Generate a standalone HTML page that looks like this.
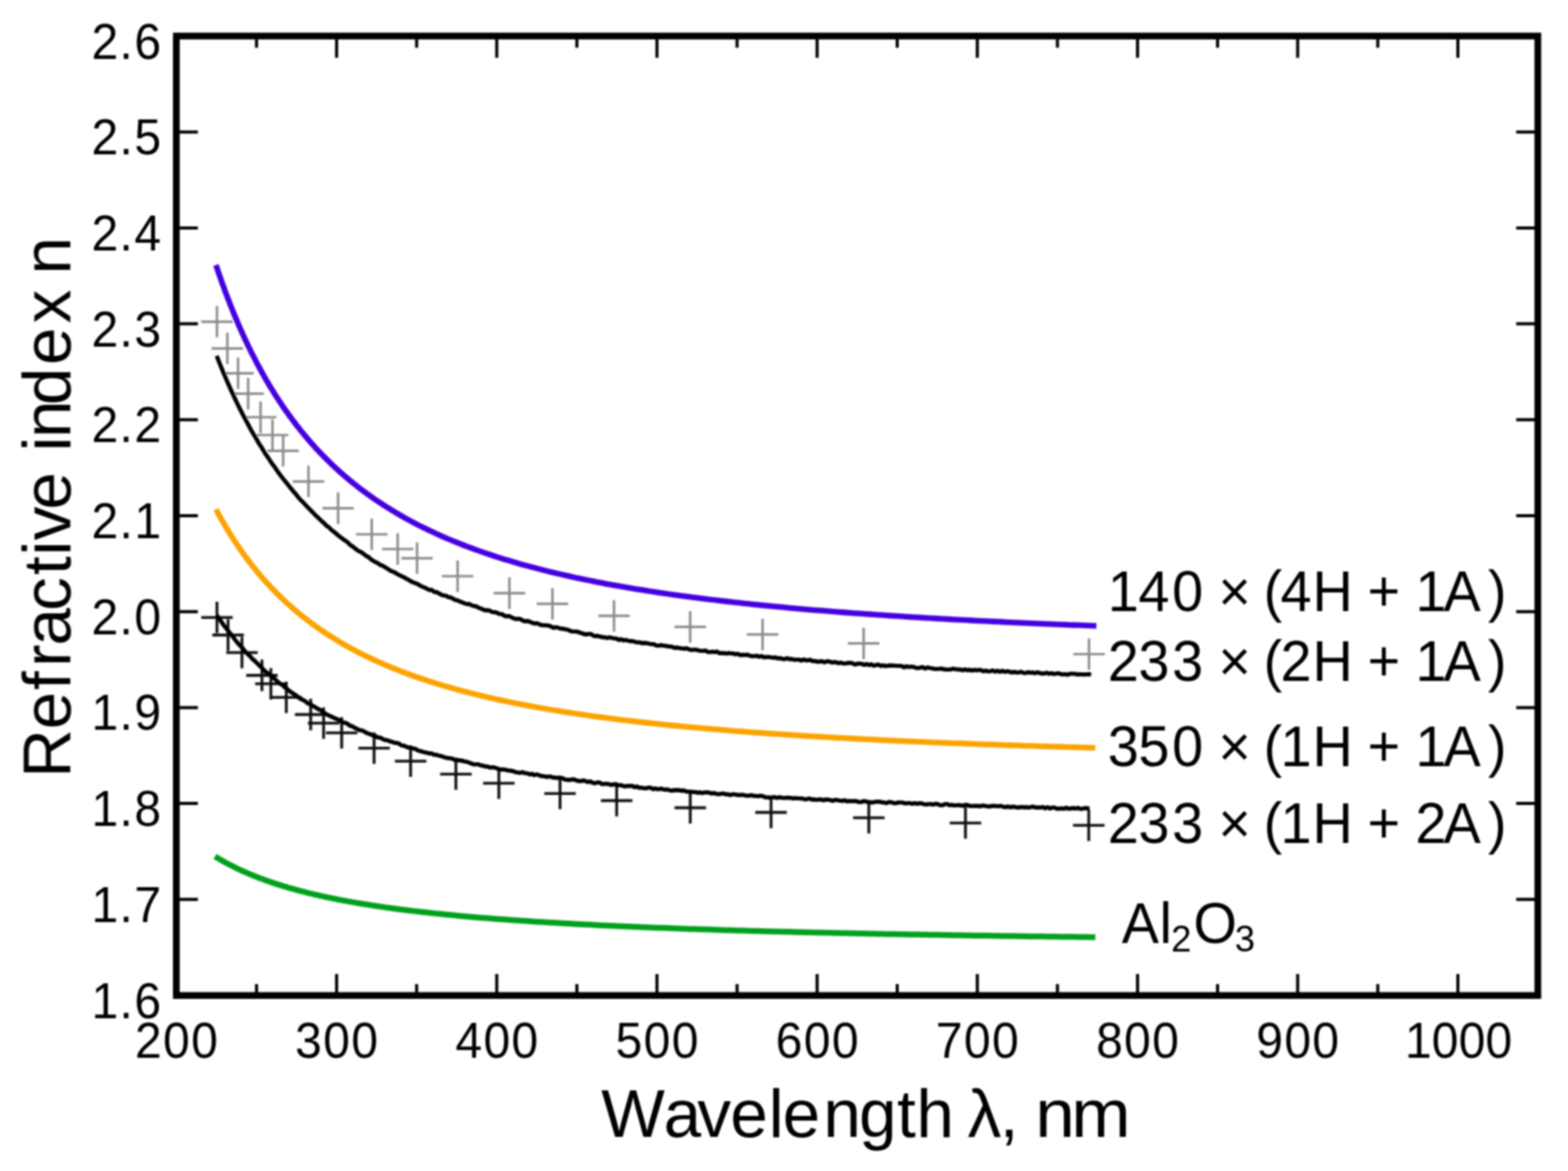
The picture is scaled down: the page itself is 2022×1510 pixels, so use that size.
<!DOCTYPE html>
<html lang="en"><head><meta charset="utf-8"><title>Refractive index vs wavelength</title>
<style>html,body{margin:0;padding:0;background:#fff;}body{width:2022px;height:1510px;overflow:hidden;}svg{display:block;}text{font-family:"Liberation Sans",Arial,sans-serif;fill:#000;white-space:pre;}</style>
</head><body>
<svg width="2022" height="1510" viewBox="0 0 2022 1510" role="img" aria-label="Refractive index n versus wavelength">
<defs><filter id="soft" x="-2%" y="-2%" width="104%" height="104%"><feGaussianBlur stdDeviation="0.9"/></filter></defs>
<rect x="0" y="0" width="2022" height="1510" fill="#ffffff"/>
<g filter="url(#soft)">
<g id="markers">
<path d="M259.5,414.8h40.6M279.8,394.5v40.6M272.9,449.3h40.6M293.2,429.0v40.6M286.7,481.3h40.6M307.0,461.0v40.6M299.7,507.6h40.6M320.0,487.3v40.6M315.7,538.0h40.6M336.0,517.7v40.6M331.1,561.0h40.6M351.4,540.7v40.6M344.8,581.3h40.6M365.1,561.0v40.6M377.5,620.8h40.6M397.8,600.5v40.6M415.7,655.4h40.6M436.0,635.1v40.6M459.1,689.0h40.6M479.4,668.7v40.6M492.5,708.0h40.6M512.8,687.7v40.6M517.5,719.8h40.6M537.8,699.5v40.6M569.8,743.0h40.6M590.1,722.7v40.6M636.6,764.9h40.6M656.9,744.6v40.6M692.1,778.7h40.6M712.4,758.4v40.6M771.5,794.2h40.6M791.8,773.9v40.6M869.7,808.4h40.6M890.0,788.1v40.6M963.1,818.2h40.6M983.4,797.9v40.6M1093.4,829.7h40.6M1113.7,809.4v40.6M1384.0,843.5h40.6M1404.3,823.2v40.6" fill="none" stroke="#8c8c8c" stroke-width="3.2"/>
<path d="M259.5,796.2h40.6M279.8,775.9v40.6M273.8,818.9h40.6M294.1,798.6v40.6M291.7,841.5h40.6M312.0,821.2v40.6M317.5,870.9h40.6M337.8,850.6v40.6M329.0,881.7h40.6M349.3,861.4v40.6M348.9,899.2h40.6M369.2,878.9v40.6M380.3,921.4h40.6M400.6,901.1v40.6M397.0,932.5h40.6M417.3,912.2v40.6M420.3,945.0h40.6M440.6,924.7v40.6M462.1,964.8h40.6M482.4,944.5v40.6M509.2,981.5h40.6M529.5,961.2v40.6M567.6,998.2h40.6M587.9,977.9v40.6M623.0,1010.0h40.6M643.3,989.7v40.6M701.9,1023.3h40.6M722.2,1003.0v40.6M774.9,1032.4h40.6M795.2,1012.1v40.6M869.8,1041.6h40.6M890.1,1021.3v40.6M974.0,1047.6h40.6M994.3,1027.3v40.6M1100.1,1054.5h40.6M1120.4,1034.2v40.6M1224.7,1061.3h40.6M1245.0,1041.0v40.6M1383.7,1064.3h40.6M1404.0,1044.0v40.6" fill="none" stroke="#111" stroke-width="3.6"/>
</g>
<g id="curves">
<path d="M277.3,1104.3 L279.2,1105.5 L281.0,1106.6 L282.9,1107.7 L284.8,1108.8 L286.7,1109.9 L288.5,1110.9 L290.4,1112.0 L292.3,1113.0 L294.1,1114.0 L296.0,1115.0 L297.9,1115.9 L299.8,1116.9 L301.6,1117.8 L303.5,1118.7 L305.4,1119.7 L307.2,1120.6 L309.1,1121.4 L311.0,1122.3 L312.9,1123.2 L314.7,1124.0 L316.6,1124.8 L318.5,1125.6 L320.3,1126.4 L322.2,1127.2 L324.1,1128.0 L326.0,1128.8 L327.8,1129.5 L329.7,1130.3 L331.6,1131.0 L333.4,1131.7 L335.3,1132.4 L337.2,1133.1 L339.1,1133.8 L340.9,1134.5 L342.8,1135.2 L344.7,1135.9 L346.5,1136.5 L348.4,1137.2 L350.3,1137.8 L352.2,1138.4 L354.0,1139.1 L355.9,1139.7 L357.8,1140.3 L359.6,1140.9 L361.5,1141.5 L363.4,1142.0 L365.3,1142.6 L367.1,1143.2 L369.0,1143.7 L370.9,1144.3 L372.7,1144.8 L374.6,1145.4 L376.5,1145.9 L378.4,1146.4 L380.2,1146.9 L382.1,1147.5 L384.0,1148.0 L385.8,1148.5 L387.7,1149.0 L389.6,1149.4 L391.5,1149.9 L393.3,1150.4 L395.2,1150.9 L397.1,1151.3 L398.9,1151.8 L400.8,1152.2 L402.7,1152.7 L404.6,1153.1 L406.4,1153.6 L408.3,1154.0 L410.2,1154.4 L412.0,1154.9 L413.9,1155.3 L415.8,1155.7 L417.7,1156.1 L419.5,1156.5 L421.4,1156.9 L423.3,1157.3 L425.1,1157.7 L427.0,1158.1 L428.9,1158.5 L430.8,1158.8 L432.6,1159.2 L434.5,1159.6 L436.4,1160.0 L438.2,1160.3 L440.1,1160.7 L442.0,1161.0 L443.9,1161.4 L445.7,1161.7 L447.6,1162.1 L449.5,1162.4 L451.3,1162.7 L453.2,1163.1 L455.1,1163.4 L457.0,1163.7 L458.8,1164.1 L460.7,1164.4 L462.6,1164.7 L464.4,1165.0 L466.3,1165.3 L468.2,1165.6 L470.1,1165.9 L471.9,1166.2 L473.8,1166.5 L475.7,1166.8 L477.5,1167.1 L479.4,1167.4 L481.3,1167.7 L483.2,1168.0 L485.0,1168.3 L486.9,1168.6 L488.8,1168.8 L490.6,1169.1 L492.5,1169.4 L494.4,1169.6 L496.3,1169.9 L498.1,1170.2 L500.0,1170.4 L505.7,1171.2 L511.5,1172.0 L517.2,1172.7 L523.0,1173.5 L528.7,1174.2 L534.4,1174.9 L540.2,1175.5 L545.9,1176.2 L551.7,1176.8 L557.4,1177.4 L563.1,1178.1 L568.9,1178.6 L574.6,1179.2 L580.3,1179.8 L586.1,1180.3 L591.8,1180.9 L597.6,1181.4 L603.3,1181.9 L609.0,1182.4 L614.8,1182.9 L620.5,1183.4 L626.3,1183.8 L632.0,1184.3 L637.7,1184.7 L643.5,1185.2 L649.2,1185.6 L655.0,1186.0 L660.7,1186.4 L666.4,1186.8 L672.2,1187.2 L677.9,1187.6 L683.6,1188.0 L689.4,1188.4 L695.1,1188.7 L700.9,1189.1 L706.6,1189.4 L712.3,1189.8 L718.1,1190.1 L723.8,1190.4 L729.6,1190.8 L735.3,1191.1 L741.0,1191.4 L746.8,1191.7 L752.5,1192.0 L758.3,1192.3 L764.0,1192.6 L769.7,1192.9 L775.5,1193.2 L781.2,1193.4 L786.9,1193.7 L792.7,1194.0 L798.4,1194.2 L804.2,1194.5 L809.9,1194.7 L815.6,1195.0 L821.4,1195.2 L827.1,1195.5 L832.9,1195.7 L838.6,1195.9 L844.3,1196.2 L850.1,1196.4 L855.8,1196.6 L861.6,1196.8 L867.3,1197.0 L873.0,1197.2 L878.8,1197.4 L884.5,1197.7 L890.3,1197.9 L896.0,1198.0 L901.7,1198.2 L907.5,1198.4 L913.2,1198.6 L918.9,1198.8 L924.7,1199.0 L930.4,1199.2 L936.2,1199.4 L941.9,1199.5 L947.6,1199.7 L953.4,1199.9 L959.1,1200.0 L964.9,1200.2 L970.6,1200.4 L976.3,1200.5 L982.1,1200.7 L987.8,1200.9 L993.6,1201.0 L999.3,1201.2 L1005.0,1201.3 L1010.8,1201.5 L1016.5,1201.6 L1022.2,1201.7 L1028.0,1201.9 L1033.7,1202.0 L1039.5,1202.2 L1045.2,1202.3 L1050.9,1202.4 L1056.7,1202.6 L1062.4,1202.7 L1068.2,1202.8 L1073.9,1203.0 L1079.6,1203.1 L1085.4,1203.2 L1091.1,1203.3 L1096.9,1203.5 L1102.6,1203.6 L1108.3,1203.7 L1114.1,1203.8 L1119.8,1203.9 L1125.6,1204.1 L1131.3,1204.2 L1137.0,1204.3 L1142.8,1204.4 L1148.5,1204.5 L1154.2,1204.6 L1160.0,1204.7 L1165.7,1204.8 L1171.5,1204.9 L1177.2,1205.0 L1182.9,1205.1 L1188.7,1205.2 L1194.4,1205.3 L1200.2,1205.4 L1205.9,1205.5 L1211.6,1205.6 L1217.4,1205.7 L1223.1,1205.8 L1228.9,1205.9 L1234.6,1206.0 L1240.3,1206.1 L1246.1,1206.2 L1251.8,1206.3 L1257.5,1206.4 L1263.3,1206.5 L1269.0,1206.6 L1274.8,1206.6 L1280.5,1206.7 L1286.2,1206.8 L1292.0,1206.9 L1297.7,1207.0 L1303.5,1207.1 L1309.2,1207.1 L1314.9,1207.2 L1320.7,1207.3 L1326.4,1207.4 L1332.2,1207.5 L1337.9,1207.5 L1343.6,1207.6 L1349.4,1207.7 L1355.1,1207.8 L1360.8,1207.8 L1366.6,1207.9 L1372.3,1208.0 L1378.1,1208.0 L1383.8,1208.1 L1389.5,1208.2 L1395.3,1208.3 L1401.0,1208.3 L1406.8,1208.4 L1412.5,1208.5" fill="none" stroke="#00a01e" stroke-width="7.5" stroke-linecap="butt" stroke-linejoin="round"/>
<path d="M278.5,656.8 L280.4,660.3 L282.2,663.7 L284.1,667.1 L285.9,670.4 L287.8,673.6 L289.7,676.8 L291.5,680.0 L293.4,683.1 L295.3,686.1 L297.1,689.1 L299.0,692.1 L300.8,695.0 L302.7,697.8 L304.6,700.6 L306.4,703.4 L308.3,706.1 L310.1,708.8 L312.0,711.5 L313.9,714.1 L315.7,716.7 L317.6,719.2 L319.4,721.7 L321.3,724.2 L323.2,726.6 L325.0,729.0 L326.9,731.3 L328.8,733.6 L330.6,735.9 L332.5,738.2 L334.3,740.4 L336.2,742.6 L338.1,744.7 L339.9,746.9 L341.8,749.0 L343.6,751.0 L345.5,753.1 L347.4,755.1 L349.2,757.1 L351.1,759.1 L353.0,761.0 L354.8,762.9 L356.7,764.8 L358.5,766.6 L360.4,768.5 L362.3,770.3 L364.1,772.1 L366.0,773.8 L367.8,775.6 L369.7,777.3 L371.6,779.0 L373.4,780.7 L375.3,782.3 L377.2,783.9 L379.0,785.5 L380.9,787.1 L382.7,788.7 L384.6,790.3 L386.5,791.8 L388.3,793.3 L390.2,794.8 L392.0,796.3 L393.9,797.7 L395.8,799.2 L397.6,800.6 L399.5,802.0 L401.3,803.4 L403.2,804.8 L405.1,806.1 L406.9,807.5 L408.8,808.8 L410.7,810.1 L412.5,811.4 L414.4,812.7 L416.2,813.9 L418.1,815.2 L420.0,816.4 L421.8,817.7 L423.7,818.9 L425.5,820.1 L427.4,821.2 L429.3,822.4 L431.1,823.6 L433.0,824.7 L434.9,825.8 L436.7,827.0 L438.6,828.1 L440.4,829.2 L442.3,830.2 L444.2,831.3 L446.0,832.4 L447.9,833.4 L449.7,834.5 L451.6,835.5 L453.5,836.5 L455.3,837.5 L457.2,838.5 L459.1,839.5 L460.9,840.4 L462.8,841.4 L464.6,842.4 L466.5,843.3 L468.4,844.2 L470.2,845.2 L472.1,846.1 L473.9,847.0 L475.8,847.9 L477.7,848.8 L479.5,849.6 L481.4,850.5 L483.2,851.4 L485.1,852.2 L487.0,853.1 L488.8,853.9 L490.7,854.7 L492.6,855.5 L494.4,856.3 L496.3,857.1 L498.1,857.9 L500.0,858.7 L505.7,861.1 L511.5,863.4 L517.2,865.7 L523.0,867.8 L528.7,870.0 L534.4,872.0 L540.2,874.0 L545.9,876.0 L551.7,877.9 L557.4,879.7 L563.1,881.5 L568.9,883.2 L574.6,884.9 L580.3,886.6 L586.1,888.2 L591.8,889.8 L597.6,891.3 L603.3,892.8 L609.0,894.3 L614.8,895.7 L620.5,897.1 L626.3,898.5 L632.0,899.8 L637.7,901.1 L643.5,902.4 L649.2,903.6 L655.0,904.8 L660.7,906.0 L666.4,907.1 L672.2,908.3 L677.9,909.4 L683.6,910.4 L689.4,911.5 L695.1,912.5 L700.9,913.5 L706.6,914.5 L712.3,915.5 L718.1,916.4 L723.8,917.4 L729.6,918.3 L735.3,919.2 L741.0,920.0 L746.8,920.9 L752.5,921.7 L758.3,922.5 L764.0,923.3 L769.7,924.1 L775.5,924.9 L781.2,925.7 L786.9,926.4 L792.7,927.1 L798.4,927.8 L804.2,928.6 L809.9,929.2 L815.6,929.9 L821.4,930.6 L827.1,931.2 L832.9,931.9 L838.6,932.5 L844.3,933.1 L850.1,933.7 L855.8,934.3 L861.6,934.9 L867.3,935.5 L873.0,936.0 L878.8,936.6 L884.5,937.1 L890.3,937.7 L896.0,938.2 L901.7,938.7 L907.5,939.2 L913.2,939.7 L918.9,940.2 L924.7,940.7 L930.4,941.2 L936.2,941.7 L941.9,942.1 L947.6,942.6 L953.4,943.0 L959.1,943.5 L964.9,943.9 L970.6,944.3 L976.3,944.7 L982.1,945.2 L987.8,945.6 L993.6,946.0 L999.3,946.4 L1005.0,946.7 L1010.8,947.1 L1016.5,947.5 L1022.2,947.9 L1028.0,948.2 L1033.7,948.6 L1039.5,949.0 L1045.2,949.3 L1050.9,949.7 L1056.7,950.0 L1062.4,950.3 L1068.2,950.7 L1073.9,951.0 L1079.6,951.3 L1085.4,951.6 L1091.1,951.9 L1096.9,952.2 L1102.6,952.5 L1108.3,952.8 L1114.1,953.1 L1119.8,953.4 L1125.6,953.7 L1131.3,954.0 L1137.0,954.3 L1142.8,954.6 L1148.5,954.8 L1154.2,955.1 L1160.0,955.4 L1165.7,955.6 L1171.5,955.9 L1177.2,956.1 L1182.9,956.4 L1188.7,956.6 L1194.4,956.9 L1200.2,957.1 L1205.9,957.4 L1211.6,957.6 L1217.4,957.8 L1223.1,958.1 L1228.9,958.3 L1234.6,958.5 L1240.3,958.7 L1246.1,959.0 L1251.8,959.2 L1257.5,959.4 L1263.3,959.6 L1269.0,959.8 L1274.8,960.0 L1280.5,960.2 L1286.2,960.4 L1292.0,960.6 L1297.7,960.8 L1303.5,961.0 L1309.2,961.2 L1314.9,961.4 L1320.7,961.6 L1326.4,961.8 L1332.2,961.9 L1337.9,962.1 L1343.6,962.3 L1349.4,962.5 L1355.1,962.7 L1360.8,962.8 L1366.6,963.0 L1372.3,963.2 L1378.1,963.3 L1383.8,963.5 L1389.5,963.7 L1395.3,963.8 L1401.0,964.0 L1406.8,964.2 L1412.5,964.3" fill="none" stroke="#fba300" stroke-width="7.3" stroke-linecap="butt" stroke-linejoin="round"/>
<path d="M279.5,458.9 L282.5,466.8 L285.5,474.2 L288.5,481.6 L291.6,488.8 L294.6,495.7 L297.6,502.4 L300.6,508.9 L303.6,515.3 L306.6,521.7 L309.6,527.8 L312.7,533.8 L315.7,539.5 L318.7,545.0 L321.7,550.6 L324.7,556.2 L327.7,561.2 L330.8,566.4 L333.8,571.7 L336.8,576.1 L339.8,581.2 L342.8,586.1 L345.8,590.2 L348.8,594.9 L351.9,599.4 L354.9,603.2 L357.9,607.7 L360.9,611.9 L363.9,615.8 L366.9,619.6 L369.9,623.2 L373.0,627.2 L376.0,630.8 L379.0,634.4 L382.0,637.8 L385.0,641.7 L388.0,645.0 L391.0,647.9 L394.1,651.3 L397.1,654.3 L400.1,657.5 L403.1,660.5 L406.1,663.7 L409.1,666.4 L412.1,669.4 L415.2,672.4 L418.2,674.9 L421.2,678.1 L424.2,680.0 L427.2,683.2 L430.2,685.4 L433.2,687.9 L436.3,690.6 L439.3,692.9 L442.3,695.2 L445.3,697.1 L448.3,699.4 L451.3,702.4 L454.4,704.4 L457.4,706.8 L460.4,709.2 L463.4,711.0 L466.4,712.3 L469.4,714.6 L472.4,717.0 L475.5,718.5 L478.5,721.4 L481.5,723.2 L484.5,725.0 L487.5,726.3 L490.5,728.6 L493.5,729.4 L496.6,731.4 L499.6,733.3 L502.6,735.4 L505.6,736.7 L508.6,737.9 L511.6,739.8 L514.6,741.3 L517.7,742.9 L520.7,744.2 L523.7,746.1 L526.7,747.6 L529.7,749.5 L532.7,751.0 L535.8,752.0 L538.8,753.3 L541.8,755.2 L544.8,756.7 L547.8,757.7 L550.8,759.3 L553.8,760.8 L556.9,760.7 L559.9,763.2 L562.9,763.5 L565.9,765.1 L568.9,766.8 L571.9,767.9 L574.9,768.1 L578.0,770.1 L581.0,770.3 L584.0,771.9 L587.0,773.7 L590.0,774.2 L593.0,775.6 L596.0,776.8 L599.1,778.0 L602.1,779.0 L605.1,778.8 L608.1,780.5 L611.1,781.5 L614.1,781.9 L617.1,783.6 L620.2,784.7 L623.2,786.0 L626.2,787.1 L629.2,786.7 L632.2,787.8 L635.2,789.4 L638.2,789.4 L641.3,790.4 L644.3,791.9 L647.3,792.0 L650.3,793.9 L653.3,794.9 L656.3,794.3 L659.4,795.9 L662.4,797.2 L665.4,798.3 L668.4,797.9 L671.4,798.5 L674.4,800.4 L677.4,801.2 L680.5,800.8 L683.5,801.9 L686.5,803.1 L689.5,804.1 L692.5,803.6 L695.5,805.2 L698.5,806.1 L701.6,806.3 L704.6,806.4 L707.6,806.8 L710.6,807.9 L713.6,809.5 L716.6,808.8 L719.6,809.4 L722.7,810.6 L725.7,810.7 L728.7,811.5 L731.7,811.9 L734.7,813.3 L737.7,814.2 L740.8,814.4 L743.8,814.4 L746.8,815.4 L749.8,816.4 L752.8,817.5 L755.8,818.2 L758.8,817.4 L761.9,817.6 L764.9,819.6 L767.9,820.3 L770.9,820.0 L773.9,821.0 L776.9,821.7 L779.9,821.8 L783.0,822.8 L786.0,821.8 L789.0,822.7 L792.0,823.2 L795.0,823.4 L798.0,825.3 L801.0,824.2 L804.1,825.8 L807.1,825.2 L810.1,826.2 L813.1,826.8 L816.1,826.8 L819.1,827.8 L822.1,828.3 L825.2,828.4 L828.2,829.5 L831.2,829.0 L834.2,829.4 L837.2,830.1 L840.2,830.6 L843.2,830.7 L846.3,832.4 L849.3,832.6 L852.3,831.8 L855.3,832.6 L858.3,832.8 L861.3,833.5 L864.4,833.6 L867.4,834.4 L870.4,835.5 L873.4,835.0 L876.4,835.8 L879.4,836.1 L882.4,836.7 L885.5,835.9 L888.5,837.4 L891.5,838.1 L894.5,837.9 L897.5,837.7 L900.5,838.7 L903.5,839.1 L906.6,839.4 L909.6,838.8 L912.6,840.6 L915.6,840.9 L918.6,840.3 L921.6,840.9 L924.6,840.2 L927.7,842.2 L930.7,842.2 L933.7,842.2 L936.7,842.8 L939.7,842.1 L942.7,842.6 L945.8,842.8 L948.8,843.7 L951.8,843.1 L954.8,844.8 L957.8,844.3 L960.8,844.6 L963.8,844.3 L966.9,845.6 L969.9,846.1 L972.9,846.1 L975.9,845.6 L978.9,846.9 L981.9,846.0 L984.9,847.5 L988.0,847.3 L991.0,847.1 L994.0,847.7 L997.0,848.2 L1000.0,847.8 L1003.0,849.1 L1006.0,848.6 L1009.1,849.7 L1012.1,849.9 L1015.1,848.8 L1018.1,850.0 L1021.1,849.7 L1024.1,850.7 L1027.1,850.6 L1030.2,850.6 L1033.2,851.7 L1036.2,850.4 L1039.2,851.5 L1042.2,851.3 L1045.2,851.0 L1048.2,852.6 L1051.3,852.4 L1054.3,853.3 L1057.3,853.0 L1060.3,852.7 L1063.3,854.1 L1066.3,852.7 L1069.4,852.9 L1072.4,854.3 L1075.4,853.8 L1078.4,854.0 L1081.4,855.2 L1084.4,854.4 L1087.4,855.6 L1090.5,855.4 L1093.5,855.0 L1096.5,854.7 L1099.5,855.3 L1102.5,856.8 L1105.5,855.9 L1108.5,855.7 L1111.6,856.1 L1114.6,857.4 L1117.6,856.3 L1120.6,857.6 L1123.6,856.6 L1126.6,858.3 L1129.6,857.7 L1132.7,857.0 L1135.7,858.8 L1138.7,857.9 L1141.7,858.8 L1144.7,858.6 L1147.7,858.0 L1150.8,858.2 L1153.8,858.4 L1156.8,858.6 L1159.8,858.6 L1162.8,858.8 L1165.8,860.6 L1168.8,859.2 L1171.9,860.1 L1174.9,859.6 L1177.9,859.9 L1180.9,861.1 L1183.9,861.5 L1186.9,860.9 L1189.9,860.2 L1193.0,862.1 L1196.0,860.6 L1199.0,861.3 L1202.0,861.8 L1205.0,862.6 L1208.0,862.6 L1211.0,862.4 L1214.1,862.1 L1217.1,863.1 L1220.1,863.3 L1223.1,863.4 L1226.1,863.3 L1229.1,862.3 L1232.1,862.8 L1235.2,863.3 L1238.2,863.5 L1241.2,864.2 L1244.2,863.3 L1247.2,864.2 L1250.2,863.8 L1253.2,864.7 L1256.3,863.8 L1259.3,864.4 L1262.3,863.9 L1265.3,864.2 L1268.3,865.7 L1271.3,864.7 L1274.4,865.8 L1277.4,865.3 L1280.4,864.6 L1283.4,866.1 L1286.4,864.9 L1289.4,866.4 L1292.4,865.0 L1295.5,866.4 L1298.5,865.6 L1301.5,866.0 L1304.5,867.2 L1307.5,866.5 L1310.5,867.0 L1313.5,867.2 L1316.6,866.2 L1319.6,867.6 L1322.6,867.9 L1325.6,866.7 L1328.6,867.5 L1331.6,867.1 L1334.6,868.1 L1337.7,866.9 L1340.7,867.9 L1343.7,868.5 L1346.7,868.5 L1349.7,867.5 L1352.7,868.9 L1355.8,868.0 L1358.8,869.1 L1361.8,868.6 L1364.8,868.1 L1367.8,869.3 L1370.8,869.5 L1373.8,869.4 L1376.9,870.0 L1379.9,868.9 L1382.9,868.9 L1385.9,868.9 L1388.9,869.7 L1391.9,869.5 L1394.9,869.6 L1398.0,869.8 L1401.0,869.6 L1404.0,869.2 L1407.0,870.2" fill="none" stroke="#000" stroke-width="5.4" stroke-linecap="butt" stroke-linejoin="round"/>
<path d="M279.8,793.5 L282.8,797.8 L285.8,802.3 L288.8,806.6 L291.8,810.4 L294.8,814.4 L297.9,817.9 L300.9,822.0 L303.9,826.0 L306.9,829.5 L309.9,832.9 L312.9,835.8 L315.9,839.7 L318.9,843.0 L321.9,845.6 L324.9,849.1 L327.9,851.6 L330.9,854.6 L334.0,857.7 L337.0,860.4 L340.0,863.8 L343.0,866.5 L346.0,868.7 L349.0,871.3 L352.0,873.6 L355.0,876.1 L358.0,879.2 L361.0,881.5 L364.0,883.2 L367.0,886.0 L370.1,888.2 L373.1,890.9 L376.1,892.9 L379.1,894.9 L382.1,896.9 L385.1,899.5 L388.1,901.5 L391.1,902.7 L394.1,904.5 L397.1,907.1 L400.1,908.0 L403.2,910.2 L406.2,911.6 L409.2,913.7 L412.2,915.1 L415.2,917.1 L418.2,919.4 L421.2,921.2 L424.2,922.7 L427.2,923.9 L430.2,925.5 L433.2,926.7 L436.2,927.9 L439.3,929.8 L442.3,931.6 L445.3,932.1 L448.3,933.4 L451.3,935.9 L454.3,936.5 L457.3,938.5 L460.3,939.8 L463.3,941.4 L466.3,941.9 L469.3,943.0 L472.3,944.9 L475.4,946.1 L478.4,947.1 L481.4,948.5 L484.4,949.4 L487.4,951.0 L490.4,951.1 L493.4,952.9 L496.4,954.3 L499.4,954.4 L502.4,955.9 L505.4,956.5 L508.5,957.7 L511.5,958.0 L514.5,958.9 L517.5,961.1 L520.5,961.5 L523.5,962.8 L526.5,963.9 L529.5,964.3 L532.5,965.1 L535.5,965.6 L538.5,967.5 L541.5,968.5 L544.6,969.2 L547.6,970.2 L550.6,970.7 L553.6,971.6 L556.6,971.5 L559.6,973.3 L562.6,973.3 L565.6,974.3 L568.6,974.8 L571.6,976.0 L574.6,976.9 L577.6,977.5 L580.7,977.8 L583.7,978.3 L586.7,980.1 L589.7,979.8 L592.7,980.8 L595.7,980.8 L598.7,981.9 L601.7,982.2 L604.7,983.2 L607.7,984.5 L610.7,985.6 L613.7,985.6 L616.8,985.6 L619.8,986.9 L622.8,987.4 L625.8,988.4 L628.8,988.5 L631.8,989.7 L634.8,989.4 L637.8,989.7 L640.8,990.7 L643.8,992.0 L646.8,992.2 L649.9,992.3 L652.9,992.8 L655.9,993.6 L658.9,993.8 L661.9,994.5 L664.9,995.7 L667.9,996.2 L670.9,996.5 L673.9,995.7 L676.9,997.0 L679.9,997.1 L682.9,998.5 L686.0,998.0 L689.0,999.5 L692.0,998.7 L695.0,999.5 L698.0,1000.9 L701.0,1000.7 L704.0,1001.7 L707.0,1001.5 L710.0,1001.4 L713.0,1002.6 L716.0,1002.7 L719.0,1003.1 L722.1,1002.8 L725.1,1003.3 L728.1,1005.1 L731.1,1005.5 L734.1,1005.9 L737.1,1005.2 L740.1,1005.0 L743.1,1006.3 L746.1,1007.0 L749.1,1007.2 L752.1,1006.5 L755.2,1007.2 L758.2,1008.4 L761.2,1007.6 L764.2,1009.4 L767.2,1010.0 L770.2,1009.0 L773.2,1009.0 L776.2,1011.0 L779.2,1010.9 L782.2,1010.7 L785.2,1011.1 L788.2,1012.2 L791.3,1011.5 L794.3,1011.3 L797.3,1012.6 L800.3,1012.4 L803.3,1013.3 L806.3,1014.1 L809.3,1013.4 L812.3,1013.5 L815.3,1013.4 L818.3,1015.1 L821.3,1014.1 L824.3,1015.9 L827.4,1015.8 L830.4,1016.4 L833.4,1016.5 L836.4,1015.7 L839.4,1015.9 L842.4,1017.6 L845.4,1016.7 L848.4,1017.8 L851.4,1017.0 L854.4,1017.5 L857.4,1018.4 L860.5,1017.9 L863.5,1019.1 L866.5,1019.5 L869.5,1018.8 L872.5,1019.0 L875.5,1018.8 L878.5,1019.7 L881.5,1019.3 L884.5,1020.5 L887.5,1020.9 L890.5,1020.9 L893.5,1021.2 L896.6,1021.4 L899.6,1022.2 L902.6,1021.8 L905.6,1022.6 L908.6,1021.9 L911.6,1021.7 L914.6,1022.1 L917.6,1023.3 L920.6,1022.5 L923.6,1023.7 L926.6,1024.2 L929.6,1023.7 L932.7,1023.2 L935.7,1024.3 L938.7,1024.1 L941.7,1025.2 L944.7,1024.2 L947.7,1024.4 L950.7,1025.0 L953.7,1025.3 L956.7,1024.9 L959.7,1025.4 L962.7,1026.1 L965.8,1026.0 L968.8,1025.4 L971.8,1026.3 L974.8,1026.4 L977.8,1026.7 L980.8,1026.1 L983.8,1026.7 L986.8,1028.1 L989.8,1028.2 L992.8,1028.5 L995.8,1028.3 L998.8,1027.9 L1001.9,1029.0 L1004.9,1028.0 L1007.9,1028.7 L1010.9,1028.9 L1013.9,1028.8 L1016.9,1028.6 L1019.9,1028.9 L1022.9,1029.6 L1025.9,1029.1 L1028.9,1029.4 L1031.9,1029.6 L1034.9,1029.7 L1038.0,1030.7 L1041.0,1030.4 L1044.0,1029.6 L1047.0,1031.0 L1050.0,1030.8 L1053.0,1031.4 L1056.0,1031.0 L1059.0,1030.9 L1062.0,1032.0 L1065.0,1030.9 L1068.0,1031.2 L1071.1,1031.8 L1074.1,1032.6 L1077.1,1031.4 L1080.1,1031.9 L1083.1,1032.4 L1086.1,1032.8 L1089.1,1031.9 L1092.1,1033.2 L1095.1,1033.0 L1098.1,1033.1 L1101.1,1032.9 L1104.1,1033.0 L1107.2,1034.1 L1110.2,1034.4 L1113.2,1033.1 L1116.2,1033.3 L1119.2,1034.2 L1122.2,1034.5 L1125.2,1034.8 L1128.2,1034.0 L1131.2,1033.9 L1134.2,1033.8 L1137.2,1034.5 L1140.2,1034.9 L1143.3,1035.6 L1146.3,1034.2 L1149.3,1034.4 L1152.3,1035.6 L1155.3,1035.7 L1158.3,1034.8 L1161.3,1034.9 L1164.3,1034.9 L1167.3,1036.1 L1170.3,1035.6 L1173.3,1035.6 L1176.3,1036.5 L1179.4,1035.6 L1182.4,1036.5 L1185.4,1035.8 L1188.4,1035.9 L1191.4,1037.1 L1194.4,1037.4 L1197.4,1036.9 L1200.4,1036.9 L1203.4,1037.5 L1206.4,1036.5 L1209.4,1037.0 L1212.5,1038.2 L1215.5,1038.4 L1218.5,1036.9 L1221.5,1036.9 L1224.5,1038.4 L1227.5,1037.9 L1230.5,1038.6 L1233.5,1038.4 L1236.5,1038.2 L1239.5,1038.8 L1242.5,1038.7 L1245.5,1037.7 L1248.6,1038.6 L1251.6,1039.4 L1254.6,1039.4 L1257.6,1039.2 L1260.6,1039.3 L1263.6,1039.7 L1266.6,1038.8 L1269.6,1039.1 L1272.6,1039.6 L1275.6,1040.1 L1278.6,1039.3 L1281.6,1039.1 L1284.7,1039.4 L1287.7,1039.7 L1290.7,1039.2 L1293.7,1040.3 L1296.7,1040.8 L1299.7,1039.9 L1302.7,1041.1 L1305.7,1040.2 L1308.7,1040.5 L1311.7,1041.4 L1314.7,1041.0 L1317.8,1040.7 L1320.8,1041.2 L1323.8,1040.8 L1326.8,1041.3 L1329.8,1040.5 L1332.8,1040.3 L1335.8,1041.4 L1338.8,1041.3 L1341.8,1041.3 L1344.8,1040.7 L1347.8,1042.3 L1350.8,1040.9 L1353.9,1042.5 L1356.9,1041.4 L1359.9,1041.4 L1362.9,1042.7 L1365.9,1042.8 L1368.9,1042.4 L1371.9,1042.9 L1374.9,1041.6 L1377.9,1042.9 L1380.9,1042.5 L1383.9,1042.0 L1386.9,1042.6 L1390.0,1041.8 L1393.0,1043.1 L1396.0,1042.9 L1399.0,1042.0 L1402.0,1042.3 L1405.0,1042.5" fill="none" stroke="#000" stroke-width="5.4" stroke-linecap="butt" stroke-linejoin="round"/>
<path d="M278.5,341.8 L280.4,347.3 L282.2,352.8 L284.1,358.1 L285.9,363.4 L287.8,368.6 L289.7,373.7 L291.5,378.7 L293.4,383.6 L295.3,388.4 L297.1,393.2 L299.0,397.9 L300.8,402.5 L302.7,407.0 L304.6,411.5 L306.4,415.8 L308.3,420.2 L310.1,424.4 L312.0,428.6 L313.9,432.7 L315.7,436.7 L317.6,440.7 L319.4,444.6 L321.3,448.5 L323.2,452.3 L325.0,456.0 L326.9,459.7 L328.8,463.3 L330.6,466.9 L332.5,470.4 L334.3,473.9 L336.2,477.3 L338.1,480.7 L339.9,484.0 L341.8,487.3 L343.6,490.5 L345.5,493.7 L347.4,496.8 L349.2,499.9 L351.1,502.9 L353.0,505.9 L354.8,508.9 L356.7,511.8 L358.5,514.7 L360.4,517.5 L362.3,520.3 L364.1,523.1 L366.0,525.8 L367.8,528.5 L369.7,531.1 L371.6,533.7 L373.4,536.3 L375.3,538.8 L377.2,541.4 L379.0,543.8 L380.9,546.3 L382.7,548.7 L384.6,551.1 L386.5,553.4 L388.3,555.7 L390.2,558.0 L392.0,560.3 L393.9,562.5 L395.8,564.7 L397.6,566.9 L399.5,569.1 L401.3,571.2 L403.2,573.3 L405.1,575.3 L406.9,577.4 L408.8,579.4 L410.7,581.4 L412.5,583.4 L414.4,585.3 L416.2,587.2 L418.1,589.2 L420.0,591.0 L421.8,592.9 L423.7,594.7 L425.5,596.5 L427.4,598.3 L429.3,600.1 L431.1,601.8 L433.0,603.6 L434.9,605.3 L436.7,607.0 L438.6,608.7 L440.4,610.3 L442.3,611.9 L444.2,613.6 L446.0,615.2 L447.9,616.7 L449.7,618.3 L451.6,619.8 L453.5,621.4 L455.3,622.9 L457.2,624.4 L459.1,625.8 L460.9,627.3 L462.8,628.8 L464.6,630.2 L466.5,631.6 L468.4,633.0 L470.2,634.4 L472.1,635.8 L473.9,637.1 L475.8,638.5 L477.7,639.8 L479.5,641.1 L481.4,642.4 L483.2,643.7 L485.1,645.0 L487.0,646.2 L488.8,647.5 L490.7,648.7 L492.6,649.9 L494.4,651.1 L496.3,652.3 L498.1,653.5 L500.0,654.7 L505.7,658.2 L511.5,661.7 L517.2,665.0 L523.0,668.3 L528.7,671.4 L534.5,674.5 L540.2,677.4 L546.0,680.3 L551.7,683.1 L557.5,685.8 L563.2,688.5 L569.0,691.1 L574.7,693.6 L580.5,696.0 L586.2,698.4 L592.0,700.7 L597.7,703.0 L603.4,705.2 L609.2,707.3 L614.9,709.4 L620.7,711.4 L626.4,713.4 L632.2,715.3 L637.9,717.2 L643.7,719.1 L649.4,720.9 L655.2,722.6 L660.9,724.3 L666.7,726.0 L672.4,727.7 L678.2,729.3 L683.9,730.8 L689.7,732.3 L695.4,733.8 L701.2,735.3 L706.9,736.7 L712.6,738.1 L718.4,739.5 L724.1,740.8 L729.9,742.1 L735.6,743.4 L741.4,744.7 L747.1,745.9 L752.9,747.1 L758.6,748.3 L764.4,749.4 L770.1,750.6 L775.9,751.7 L781.6,752.8 L787.4,753.8 L793.1,754.9 L798.9,755.9 L804.6,756.9 L810.3,757.9 L816.1,758.8 L821.8,759.8 L827.6,760.7 L833.3,761.6 L839.1,762.5 L844.8,763.4 L850.6,764.3 L856.3,765.1 L862.1,766.0 L867.8,766.8 L873.6,767.6 L879.3,768.4 L885.1,769.1 L890.8,769.9 L896.6,770.6 L902.3,771.4 L908.0,772.1 L913.8,772.8 L919.5,773.5 L925.3,774.2 L931.0,774.9 L936.8,775.5 L942.5,776.2 L948.3,776.8 L954.0,777.4 L959.8,778.1 L965.5,778.7 L971.3,779.3 L977.0,779.9 L982.8,780.5 L988.5,781.0 L994.3,781.6 L1000.0,782.1 L1005.8,782.7 L1011.5,783.2 L1017.2,783.8 L1023.0,784.3 L1028.7,784.8 L1034.5,785.3 L1040.2,785.8 L1046.0,786.3 L1051.7,786.8 L1057.5,787.2 L1063.2,787.7 L1069.0,788.2 L1074.7,788.6 L1080.5,789.1 L1086.2,789.5 L1092.0,790.0 L1097.7,790.4 L1103.5,790.8 L1109.2,791.2 L1114.9,791.6 L1120.7,792.0 L1126.4,792.4 L1132.2,792.8 L1137.9,793.2 L1143.7,793.6 L1149.4,794.0 L1155.2,794.4 L1160.9,794.7 L1166.7,795.1 L1172.4,795.5 L1178.2,795.8 L1183.9,796.2 L1189.7,796.5 L1195.4,796.8 L1201.2,797.2 L1206.9,797.5 L1212.6,797.8 L1218.4,798.2 L1224.1,798.5 L1229.9,798.8 L1235.6,799.1 L1241.4,799.4 L1247.1,799.7 L1252.9,800.0 L1258.6,800.3 L1264.4,800.6 L1270.1,800.9 L1275.9,801.2 L1281.6,801.5 L1287.4,801.7 L1293.1,802.0 L1298.9,802.3 L1304.6,802.6 L1310.4,802.8 L1316.1,803.1 L1321.8,803.3 L1327.6,803.6 L1333.3,803.8 L1339.1,804.1 L1344.8,804.3 L1350.6,804.6 L1356.3,804.8 L1362.1,805.1 L1367.8,805.3 L1373.6,805.5 L1379.3,805.8 L1385.1,806.0 L1390.8,806.2 L1396.6,806.4 L1402.3,806.7 L1408.1,806.9 L1413.8,807.1" fill="none" stroke="#4400e0" stroke-width="7.3" stroke-linecap="butt" stroke-linejoin="round"/>
</g>
<path id="ticks" d="M434.1,1279.9v-24.0M434.1,50.4v24.0M640.6,1279.9v-24.0M640.6,50.4v24.0M847.2,1279.9v-24.0M847.2,50.4v24.0M1053.7,1279.9v-24.0M1053.7,50.4v24.0M1260.3,1279.9v-24.0M1260.3,50.4v24.0M1466.9,1279.9v-24.0M1466.9,50.4v24.0M1673.4,1279.9v-24.0M1673.4,50.4v24.0M1880.0,1279.9v-24.0M1880.0,50.4v24.0M330.8,1279.9v-11.0M330.8,50.4v11.0M537.3,1279.9v-11.0M537.3,50.4v11.0M743.9,1279.9v-11.0M743.9,50.4v11.0M950.5,1279.9v-11.0M950.5,50.4v11.0M1157.0,1279.9v-11.0M1157.0,50.4v11.0M1363.6,1279.9v-11.0M1363.6,50.4v11.0M1570.1,1279.9v-11.0M1570.1,50.4v11.0M1776.7,1279.9v-11.0M1776.7,50.4v11.0M231.2,1159.8h24.0M1979.2,1159.8h-24.0M231.2,1036.1h24.0M1979.2,1036.1h-24.0M231.2,912.4h24.0M1979.2,912.4h-24.0M231.2,788.7h24.0M1979.2,788.7h-24.0M231.2,665.0h24.0M1979.2,665.0h-24.0M231.2,541.3h24.0M1979.2,541.3h-24.0M231.2,417.6h24.0M1979.2,417.6h-24.0M231.2,293.9h24.0M1979.2,293.9h-24.0M231.2,170.2h24.0M1979.2,170.2h-24.0" fill="none" stroke="#000" stroke-width="4.0"/>
<rect id="frame" x="227.4" y="46.5" width="1755.7" height="1237.2" fill="none" stroke="#000" stroke-width="8.7"/>
<g id="labels">
<text transform="scale(0.96112,1)" font-size="74.91" x="1486.20 1527.44 1572.74 1614.40 1634.56 1678.31 1695.35 1717.94 1761.07 1815.17 1834.82 1878.57 1899.16 1936.76 1996.40" y="788.0" xml:space="preserve" >140 × (4H + 1A)</text>
<text transform="scale(0.96112,1)" font-size="74.91" x="1486.20 1527.44 1572.74 1614.40 1634.56 1678.31 1695.35 1717.94 1761.07 1815.17 1834.82 1878.57 1899.16 1936.76 1996.40" y="878.0" xml:space="preserve" >233 × (2H + 1A)</text>
<text transform="scale(0.96112,1)" font-size="74.91" x="1486.20 1527.44 1572.74 1614.40 1634.56 1678.31 1695.35 1717.94 1761.07 1815.17 1834.82 1878.57 1899.16 1936.76 1996.40" y="987.7" xml:space="preserve" >350 × (1H + 1A)</text>
<text transform="scale(0.96112,1)" font-size="74.91" x="1486.20 1527.44 1572.74 1614.40 1634.56 1678.31 1695.35 1717.94 1761.07 1815.17 1834.82 1878.57 1899.16 1936.76 1996.40" y="1087.2" xml:space="preserve" >233 × (1H + 2A)</text>
<text id="al2o3" transform="scale(0.96112,1)" xml:space="preserve"><tspan x="1505.08 1555.63" y="1215.8" font-size="74.91">Al</tspan><tspan x="1571.23" y="1227.3" font-size="48.90">2</tspan><tspan x="1601.25" y="1215.8" font-size="74.91">O</tspan><tspan x="1656.73" y="1227.3" font-size="48.90">3</tspan></text>
</g>
<g id="yticklabels">
<text transform="scale(0.96112,1)" font-size="64.51" x="122.88 160.13 180.21" y="1312.6" xml:space="preserve" >1.6</text>
<text transform="scale(0.96112,1)" font-size="64.51" x="122.88 160.13 180.21" y="1188.9" xml:space="preserve" >1.7</text>
<text transform="scale(0.96112,1)" font-size="64.51" x="122.88 160.13 180.21" y="1065.2" xml:space="preserve" >1.8</text>
<text transform="scale(0.96112,1)" font-size="64.51" x="122.88 160.13 180.21" y="941.5" xml:space="preserve" >1.9</text>
<text transform="scale(0.96112,1)" font-size="64.51" x="122.88 160.13 180.21" y="817.8" xml:space="preserve" >2.0</text>
<text transform="scale(0.96112,1)" font-size="64.51" x="122.88 160.13 180.21" y="694.1" xml:space="preserve" >2.1</text>
<text transform="scale(0.96112,1)" font-size="64.51" x="122.88 160.13 180.21" y="570.4" xml:space="preserve" >2.2</text>
<text transform="scale(0.96112,1)" font-size="64.51" x="122.88 160.13 180.21" y="446.7" xml:space="preserve" >2.3</text>
<text transform="scale(0.96112,1)" font-size="64.51" x="122.88 160.13 180.21" y="323.0" xml:space="preserve" >2.4</text>
<text transform="scale(0.96112,1)" font-size="64.51" x="122.88 160.13 180.21" y="199.3" xml:space="preserve" >2.5</text>
<text transform="scale(0.96112,1)" font-size="64.51" x="122.88 160.13 180.21" y="75.6" xml:space="preserve" >2.6</text>
</g>
<g id="xticklabels">
<text transform="scale(0.96112,1)" font-size="64.51" x="181.10 218.77 256.43" y="1364.2" xml:space="preserve" >200</text>
<text transform="scale(0.96112,1)" font-size="64.51" x="396.02 433.68 471.35" y="1364.2" xml:space="preserve" >300</text>
<text transform="scale(0.96112,1)" font-size="64.51" x="610.93 648.60 686.26" y="1364.2" xml:space="preserve" >400</text>
<text transform="scale(0.96112,1)" font-size="64.51" x="825.85 863.51 901.18" y="1364.2" xml:space="preserve" >500</text>
<text transform="scale(0.96112,1)" font-size="64.51" x="1040.77 1078.43 1116.09" y="1364.2" xml:space="preserve" >600</text>
<text transform="scale(0.96112,1)" font-size="64.51" x="1255.68 1293.35 1331.01" y="1364.2" xml:space="preserve" >700</text>
<text transform="scale(0.96112,1)" font-size="64.51" x="1470.60 1508.26 1545.93" y="1364.2" xml:space="preserve" >800</text>
<text transform="scale(0.96112,1)" font-size="64.51" x="1685.51 1723.18 1760.84" y="1364.2" xml:space="preserve" >900</text>
<text transform="scale(0.96112,1)" font-size="64.51" x="1885.03 1921.03 1957.03 1993.03" y="1364.2" xml:space="preserve" >1000</text>
</g>
<text transform="scale(1.00000,1)" font-size="87.00" x="775.22 855.70 899.20 941.80 991.14 1009.30 1061.72 1107.65 1156.68 1181.67 1230.05 1247.71 1289.18" y="1465.8" xml:space="preserve" id="xlabel">Wavelength λ,</text>
<text transform="scale(1.05500,1)" font-size="87.00" x="1265.31 1309.58" y="1465.8" xml:space="preserve" id="xunit">nm</text>
<text id="ylabel" transform="translate(90.6,1003.0) rotate(-90) scale(1.00000,1)" font-size="87.00" x="0.06 62.40 113.37 142.92 170.50 215.30 261.48 286.38 306.20 345.80 394.19 420.78 438.22 480.45 532.30 586.02 629.52 648.92" y="0" xml:space="preserve">Refractive index n</text>
</g>
</svg>
</body></html>
